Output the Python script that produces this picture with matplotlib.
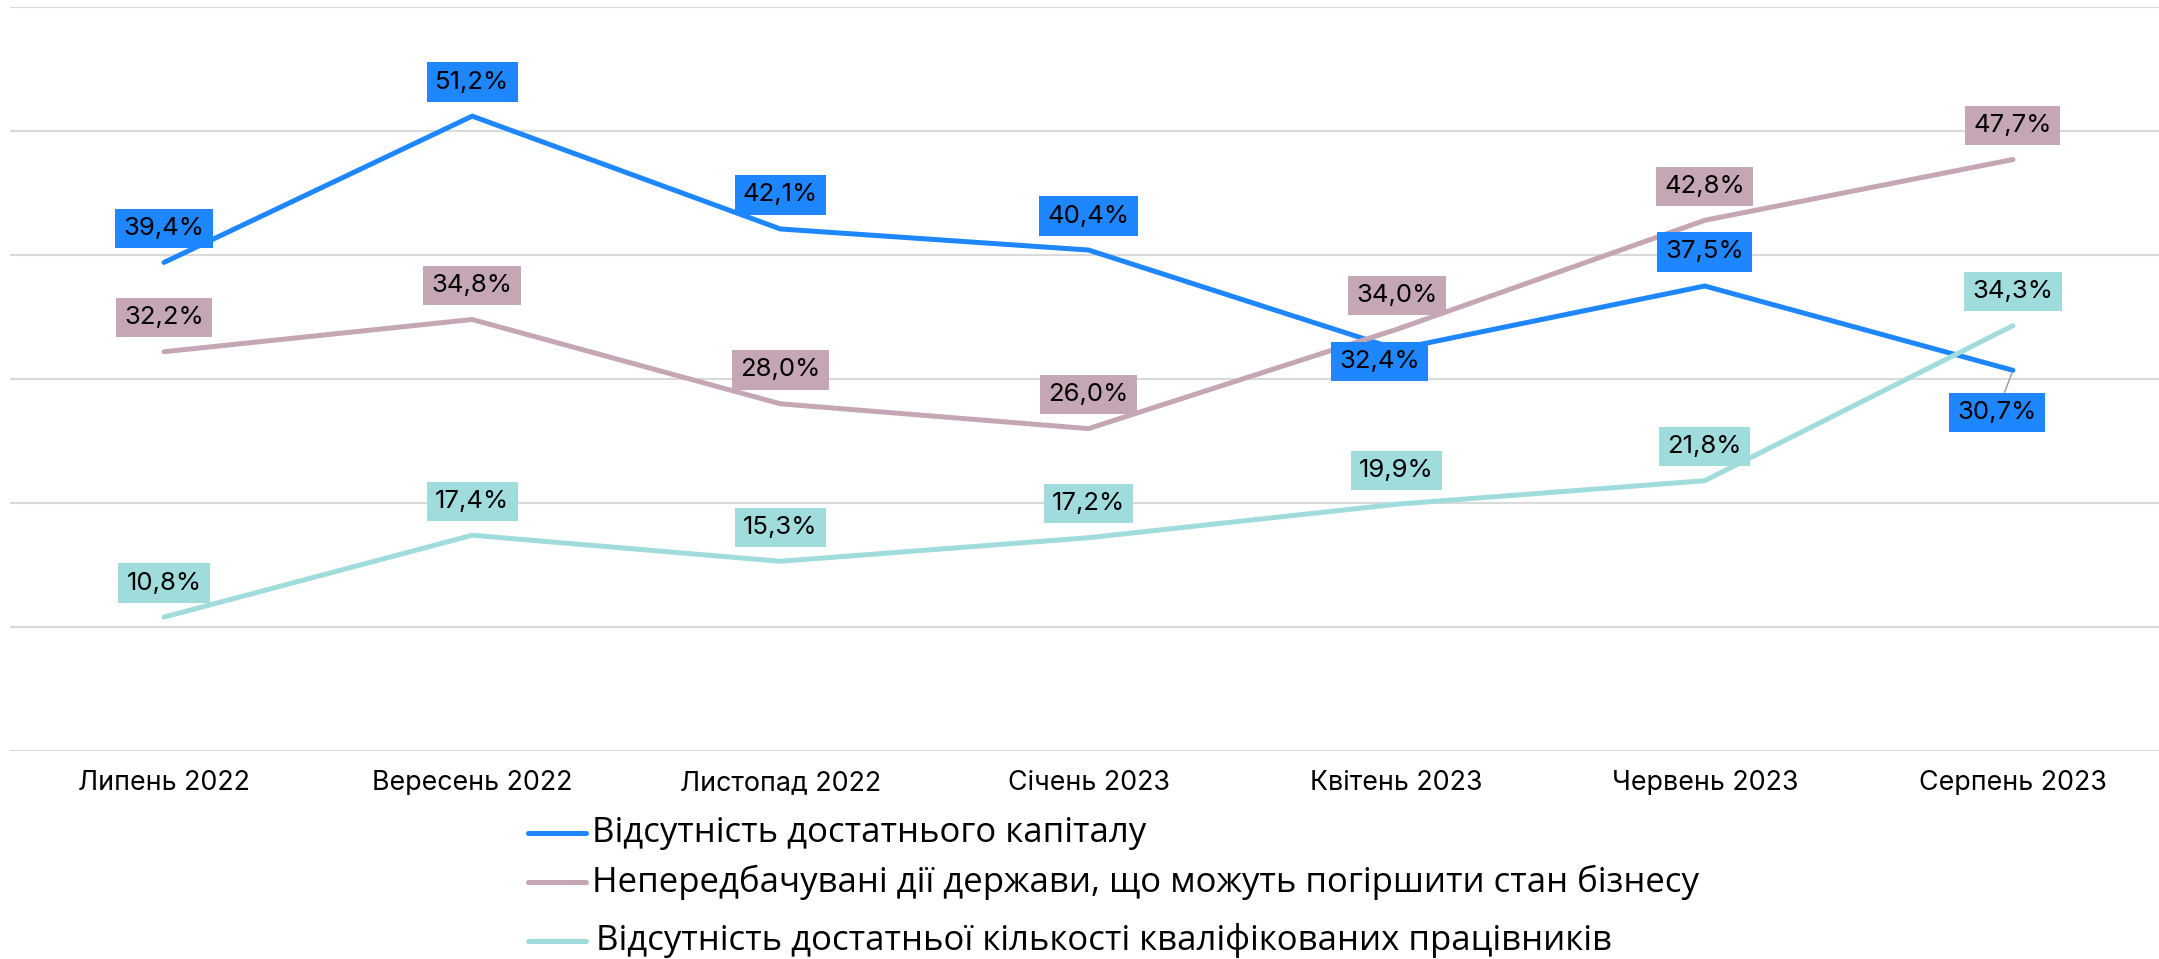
import matplotlib
matplotlib.use('Agg')
import matplotlib.pyplot as plt
from matplotlib.lines import Line2D

# Дані
months = ['Липень 2022', 'Вересень 2022', 'Листопад 2022', 'Січень 2023',
          'Квітень 2023', 'Червень 2023', 'Серпень 2023']
capital = [39.4, 51.2, 42.1, 40.4, 32.4, 37.5, 30.7]
state_actions = [32.2, 34.8, 28.0, 26.0, 34.0, 42.8, 47.7]
workers = [10.8, 17.4, 15.3, 17.2, 19.9, 21.8, 34.3]

series_names = ['Відсутність достатнього капіталу',
                'Непередбачувані дії держави, що можуть погіршити стан бізнесу',
                'Відсутність достатньої кількості кваліфікованих працівників']
colors = ['#1E86FF', '#C4A6B4', '#A1DCDD']

fig = plt.figure(figsize=(21.59, 9.59), dpi=100)
ax = fig.add_axes([10 / 2159, 1 - 751 / 959, 2157 / 2159, 744 / 959])

x = list(range(len(months)))
all_series = [capital, state_actions, workers]

for i, (vals, col) in enumerate(zip(all_series, colors)):
    ax.plot(x, vals, color=col, lw=3.6, solid_capstyle='round',
            solid_joinstyle='round', zorder=2 + i)

# Підписи значень
for vals, col in zip(all_series, colors):
    for j, v in enumerate(vals):
        off = (0, 34)
        arrow = None
        if vals is capital and j == 4:
            off = (-17, -12)
        if vals is capital and j == 6:
            off = (-16, -42)
            arrow = dict(arrowstyle='-', color='#A0A0A0', lw=1.1,
                         shrinkA=0, shrinkB=2)
        ax.annotate(f'{v:.1f}%'.replace('.', ','), (j, v),
                    xytext=off, textcoords='offset pixels',
                    ha='center', va='center', fontsize=18.5,
                    family=['Inter', 'DejaVu Sans'], color='black',
                    bbox=dict(boxstyle='square,pad=0.32', fc=col, ec='none'),
                    arrowprops=arrow, zorder=10, annotation_clip=False)

ax.set_xlim(-0.5, 6.5)
ax.set_ylim(0, 60)
ax.set_yticks(range(0, 61, 10))
ax.set_yticklabels([])
ax.set_xticks(x)
ax.set_xticklabels(months, fontsize=19.3, family=['Inter', 'DejaVu Sans'])
ax.tick_params(axis='both', length=0)
ax.tick_params(axis='x', pad=14)
ax.grid(axis='y', color='#D9D9D9', lw=1.5)
ax.set_axisbelow(True)
for s in ax.spines.values():
    s.set_visible(False)

# Легенда
leg_y = [1 - 833 / 959, 1 - 882 / 959, 1 - 941 / 959]
leg_x = [592, 592, 596]
for name, col, yy, tx in zip(series_names, colors, leg_y, leg_x):
    fig.add_artist(Line2D([528 / 2159, 586 / 2159], [yy, yy], color=col,
                          lw=3.6, solid_capstyle='round'))
    fig.text(tx / 2159, yy, name, fontsize=25, va='center', ha='left',
             family=['Open Sans', 'DejaVu Sans'])

fig.savefig('out.png', dpi=100)
